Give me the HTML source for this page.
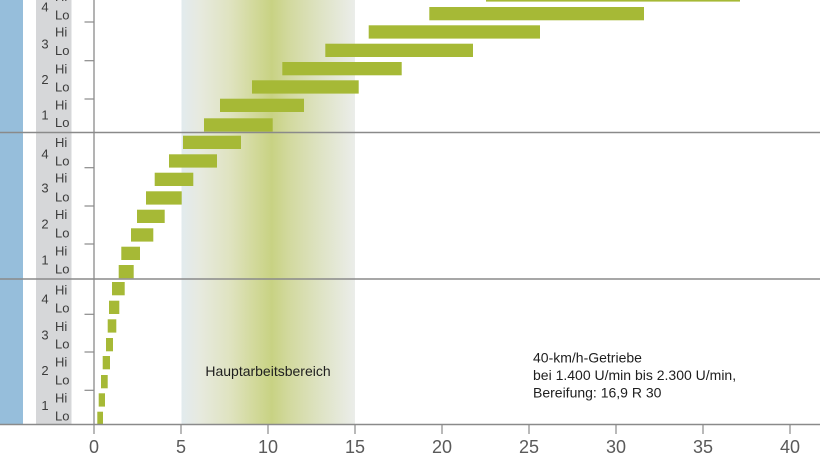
<!DOCTYPE html>
<html><head><meta charset="utf-8"><style>
html,body{margin:0;padding:0;background:#fff;}
svg{display:block;}
.lb{font-family:"Liberation Sans",sans-serif;font-size:13px;fill:#3c3c3c;}
.dg{font-family:"Liberation Sans",sans-serif;font-size:13px;fill:#3c3c3c;text-anchor:middle;}
.ax{font-family:"Liberation Sans",sans-serif;font-size:18px;fill:#5a5a5a;text-anchor:middle;}
.tx{font-family:"Liberation Sans",sans-serif;font-size:14px;fill:#1e1e1e;}
</style></head><body>
<svg width="820" height="460" viewBox="0 0 820 460" xmlns="http://www.w3.org/2000/svg">
<defs>
<linearGradient id="g" x1="0" x2="1" y1="0" y2="0">
<stop offset="0" stop-color="#e2ebee"/>
<stop offset="0.1" stop-color="#e7eae0"/>
<stop offset="0.28" stop-color="#dfe3c0"/>
<stop offset="0.42" stop-color="#d2d99b"/>
<stop offset="0.52" stop-color="#c8d283"/>
<stop offset="0.62" stop-color="#d2d99e"/>
<stop offset="0.8" stop-color="#dee3c4"/>
<stop offset="1" stop-color="#ebedea"/>
</linearGradient>
</defs>
<rect x="0" y="0" width="820" height="460" fill="#fff"/>
<rect x="0" y="0" width="23" height="424.5" fill="#96bedb"/>
<rect x="36" y="0" width="35.5" height="424.5" fill="#d6d7d9"/>
<rect x="181.5" y="0" width="173.5" height="424.5" fill="url(#g)"/>

<g fill="#a6b936">
<rect x="97.3" y="411.7" width="5.7" height="13.3"/>
<rect x="98.7" y="393.3" width="6.3" height="13.3"/>
<rect x="101" y="375" width="6.7" height="13.3"/>
<rect x="102.7" y="356" width="7.3" height="13.3"/>
<rect x="106" y="338" width="7" height="13.3"/>
<rect x="107.7" y="319.3" width="8.6" height="13.3"/>
<rect x="109" y="300.7" width="10.3" height="13.3"/>
<rect x="112" y="282" width="12.7" height="13.3"/>
<rect x="118.7" y="265" width="15" height="13.3"/>
<rect x="121.3" y="246.7" width="18.7" height="13.3"/>
<rect x="131" y="228.3" width="22.3" height="13.3"/>
<rect x="137" y="209.7" width="27.7" height="13.3"/>
<rect x="146" y="191.3" width="35.7" height="13.3"/>
<rect x="154.7" y="172.7" width="38.6" height="13.3"/>
<rect x="169" y="154.3" width="48" height="13.3"/>
<rect x="183" y="135.7" width="58" height="13.3"/>
<rect x="204" y="118.3" width="68.7" height="13.3"/>
<rect x="220" y="98.7" width="84" height="13.3"/>
<rect x="252" y="80.3" width="106.7" height="13.3"/>
<rect x="282.3" y="62" width="119.4" height="13.3"/>
<rect x="325.3" y="43.7" width="147.7" height="13.3"/>
<rect x="368.7" y="25.3" width="171.3" height="13.3"/>
<rect x="429.3" y="7" width="214.7" height="13.3"/>
<rect x="486" y="-11.7" width="254" height="13.3"/>
</g>

<g stroke="#8a8a8a" stroke-width="1.5" fill="none">
<line x1="0" y1="132.5" x2="820" y2="132.5"/>
<line x1="0" y1="279" x2="820" y2="279"/>
<line x1="0" y1="424.5" x2="820" y2="424.5"/>
<line x1="94" y1="0" x2="94" y2="424.5" stroke-width="1.3"/>
</g>
<g stroke="#8a8a8a" stroke-width="1.2">
<line x1="84.5" y1="22" x2="94" y2="22"/>
<line x1="84.5" y1="60.7" x2="94" y2="60.7"/>
<line x1="84.5" y1="99" x2="94" y2="99"/>
<line x1="84.5" y1="167.7" x2="94" y2="167.7"/>
<line x1="84.5" y1="206" x2="94" y2="206"/>
<line x1="84.5" y1="244" x2="94" y2="244"/>
<line x1="84.5" y1="314.3" x2="94" y2="314.3"/>
<line x1="84.5" y1="352" x2="94" y2="352"/>
<line x1="84.5" y1="390.3" x2="94" y2="390.3"/>
<line x1="94" y1="424.5" x2="94" y2="434"/>
<line x1="181" y1="424.5" x2="181" y2="434"/>
<line x1="268" y1="424.5" x2="268" y2="434"/>
<line x1="355" y1="424.5" x2="355" y2="434"/>
<line x1="442" y1="424.5" x2="442" y2="434"/>
<line x1="529" y1="424.5" x2="529" y2="434"/>
<line x1="616" y1="424.5" x2="616" y2="434"/>
<line x1="703" y1="424.5" x2="703" y2="434"/>
<line x1="790" y1="424.5" x2="790" y2="434"/>
</g>

<text class="ax" x="94" y="453">0</text>
<text class="ax" x="181" y="453">5</text>
<text class="ax" x="268" y="453">10</text>
<text class="ax" x="355" y="453">15</text>
<text class="ax" x="442" y="453">20</text>
<text class="ax" x="529" y="453">25</text>
<text class="ax" x="616" y="453">30</text>
<text class="ax" x="703" y="453">35</text>
<text class="ax" x="790" y="453">40</text>

<g class="lb">
<text x="55" y="1">Hi</text><text x="55" y="19.3">Lo</text>
<text x="55" y="36.7">Hi</text><text x="55" y="55">Lo</text>
<text x="55" y="73.3">Hi</text><text x="55" y="91.7">Lo</text>
<text x="55" y="109.3">Hi</text><text x="55" y="127">Lo</text>
<text x="55" y="147">Hi</text><text x="55" y="165.7">Lo</text>
<text x="55" y="182.3">Hi</text><text x="55" y="201.7">Lo</text>
<text x="55" y="219">Hi</text><text x="55" y="237.3">Lo</text>
<text x="55" y="255.7">Hi</text><text x="55" y="273.3">Lo</text>
<text x="55" y="294.7">Hi</text><text x="55" y="312.3">Lo</text>
<text x="55" y="331">Hi</text><text x="55" y="348.3">Lo</text>
<text x="55" y="366.7">Hi</text><text x="55" y="384.3">Lo</text>
<text x="55" y="402.7">Hi</text><text x="55" y="420.7">Lo</text>
</g>
<g class="dg">
<text x="45" y="11.7">4</text>
<text x="45" y="48.3">3</text>
<text x="45" y="84">2</text>
<text x="45" y="119.3">1</text>
<text x="45" y="158.3">4</text>
<text x="45" y="192.3">3</text>
<text x="45" y="228.3">2</text>
<text x="45" y="264.3">1</text>
<text x="45" y="303.3">4</text>
<text x="45" y="339.3">3</text>
<text x="45" y="375">2</text>
<text x="45" y="410">1</text>
</g>

<text class="tx" x="268" y="376" text-anchor="middle">Hauptarbeitsbereich</text>
<text class="tx" x="533" y="362.7">40-km/h-Getriebe</text>
<text class="tx" x="533" y="380">bei 1.400 U/min bis 2.300 U/min,</text>
<text class="tx" x="533" y="397.3">Bereifung: 16,9 R 30</text>
</svg>
</body></html>
